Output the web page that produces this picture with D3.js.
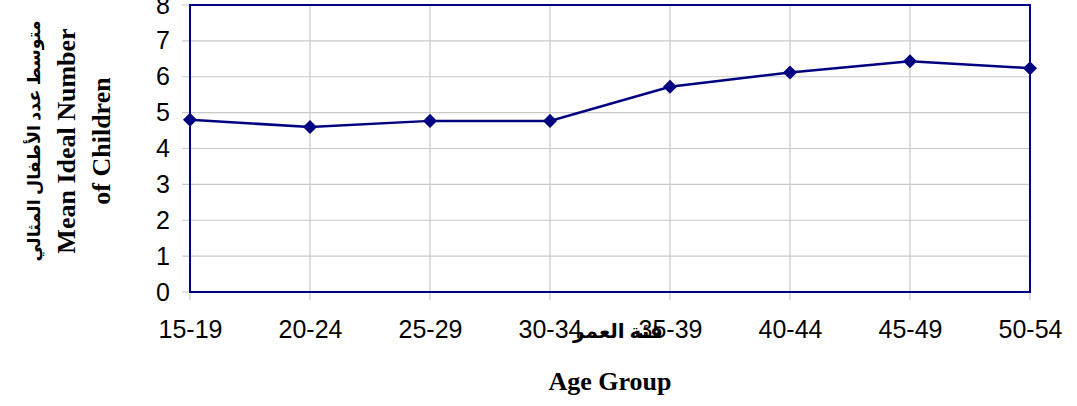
<!DOCTYPE html>
<html>
<head>
<meta charset="utf-8">
<script src="https://cdn.jsdelivr.net/npm/d3@7"></script>
<style>
  body { margin: 0; background: #fff; }
  svg { display: block; }
</style>
</head>
<body>
<div id="chart"></div>
<script>
// values
const ageGroups = ["15-19", "20-24", "25-29", "30-34", "35-39", "40-44", "45-49", "50-54"];
const meanIdeal = [4.8, 4.6, 4.77, 4.77, 5.72, 6.12, 6.43, 6.24];
const yTicks = [0, 1, 2, 3, 4, 5, 6, 7, 8];

const W = 1077, H = 406;
const margin = { top: 5, right: 47, bottom: 114, left: 190 };
const navy = "#000080";

const svg = d3.select("#chart").append("svg")
    .attr("width", W)
    .attr("height", H);

const x = d3.scalePoint()
    .domain(ageGroups)
    .range([margin.left, W - margin.right]);

const y = d3.scaleLinear()
    .domain([0, 8])
    .range([H - margin.bottom, margin.top]);

// grid lines (they poke out past the axes like tick marks)
svg.append("g")
    .selectAll("line.h")
    .data(yTicks)
    .join("line")
    .attr("x1", margin.left - 8)
    .attr("x2", W - margin.right)
    .attr("y1", d => y(d))
    .attr("y2", d => y(d))
    .attr("stroke", "#c8c8c8")
    .attr("stroke-width", 1.2);

svg.append("g")
    .selectAll("line.v")
    .data(ageGroups)
    .join("line")
    .attr("x1", d => x(d))
    .attr("x2", d => x(d))
    .attr("y1", margin.top)
    .attr("y2", H - margin.bottom + 8)
    .attr("stroke", "#c8c8c8")
    .attr("stroke-width", 1.2);

// plot frame
svg.append("rect")
    .attr("x", margin.left)
    .attr("y", margin.top)
    .attr("width", W - margin.left - margin.right)
    .attr("height", H - margin.top - margin.bottom)
    .attr("fill", "none")
    .attr("stroke", navy)
    .attr("stroke-width", 2);

// axes (labels only)
const yAxis = svg.append("g")
    .attr("transform", `translate(${margin.left},0)`)
    .call(d3.axisLeft(y).tickValues(yTicks).tickFormat(d3.format("d")).tickSize(0).tickPadding(20));

const xAxis = svg.append("g")
    .attr("transform", `translate(0,${H - margin.bottom})`)
    .call(d3.axisBottom(x).tickSize(0).tickPadding(28));

[yAxis, xAxis].forEach(g => {
    g.select(".domain").remove();
    g.selectAll("text")
        .attr("font-family", "'Liberation Sans', Arial, sans-serif")
        .attr("font-size", 25)
        .attr("fill", "#000");
});

// series
const line = d3.line()
    .x((d, i) => x(ageGroups[i]))
    .y(d => y(d));

svg.append("path")
    .datum(meanIdeal)
    .attr("fill", "none")
    .attr("stroke", navy)
    .attr("stroke-width", 2.5)
    .attr("d", line);

svg.append("g")
    .selectAll("path")
    .data(meanIdeal)
    .join("path")
    .attr("transform", (d, i) => `translate(${x(ageGroups[i])},${y(d)})`)
    .attr("d", d3.symbol(d3.symbolDiamond2, 125))
    .attr("fill", navy);

// titles
const serif = "'Liberation Serif', 'Times New Roman', 'DejaVu Sans', serif";

svg.append("text")
    .attr("x", 618)
    .attr("y", 338)
    .attr("text-anchor", "middle")
    .attr("font-family", serif)
    .attr("font-weight", "bold")
    .attr("font-size", 20)
    .text("فئة العمر");

svg.append("text")
    .attr("x", 610)
    .attr("y", 390)
    .attr("text-anchor", "middle")
    .attr("font-family", serif)
    .attr("font-weight", "bold")
    .attr("font-size", 26)
    .text("Age Group");

const yTitle = [
    { t: "متوسط عدد الأطفال المثالي", x: 40, size: 17.5 },
    { t: "Mean Ideal Number", x: 75, size: 26 },
    { t: "of Children", x: 110, size: 26 }
];

svg.append("g")
    .selectAll("text")
    .data(yTitle)
    .join("text")
    .attr("transform", d => `translate(${d.x},141) rotate(-90)`)
    .attr("text-anchor", "middle")
    .attr("font-family", serif)
    .attr("font-weight", "bold")
    .attr("font-size", d => d.size)
    .text(d => d.t);
</script>
</body>
</html>
